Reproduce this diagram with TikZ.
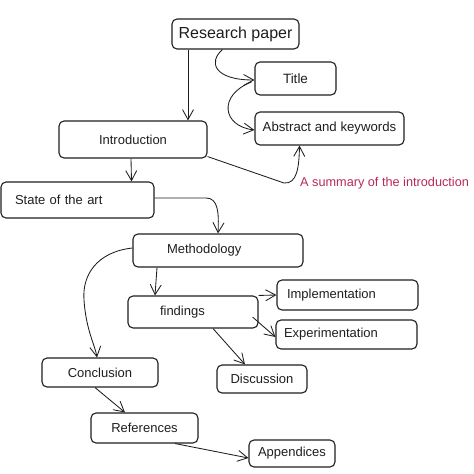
\documentclass[tikz,border=0pt]{standalone}
\usepackage{fontspec}
\setmainfont{Liberation Sans}
\usetikzlibrary{arrows.meta,calc}
\definecolor{ink}{HTML}{1E1E1E}
\definecolor{note}{HTML}{B8285A}
\tikzset{
  box/.style={draw=ink, line width=1.1pt, rounded corners=5pt, inner sep=0pt,
    text=ink, font=\fontsize{13}{15}\selectfont},
  conn/.style={draw=ink, line width=0.85pt, -{Straight Barb[length=10pt,width=11pt]}},
  lbl/.style={text=note, inner sep=0pt, font=\fontsize{12.7}{15}\selectfont},
}
\begin{document}
\begin{tikzpicture}[x=1pt,y=-1pt]
\useasboundingbox (0,0) rectangle (474,474);
% nodes
\node[box, minimum width=127pt, minimum height=30pt, font=\fontsize{16}{18}\selectfont] (rp) at (235.5,34) {Research paper};
\node[box, minimum width=81pt, minimum height=33pt, font=\fontsize{13.5}{15}\selectfont] (title) at (295.5,78.5) {Title};
\node[box, minimum width=149pt, minimum height=33pt, font=\fontsize{13.2}{15}\selectfont] (abs) at (329.5,128.5) {Abstract and keywords};
\node[box, minimum width=148pt, minimum height=37pt] (intro) at (133,139.5) {Introduction};
\node[box, minimum width=153pt, minimum height=36pt, text width=125pt, inner xsep=14pt, align=left] (state) at (77.5,200) {State of the art};
\node[box, minimum width=170pt, minimum height=33pt, text width=102pt, inner xsep=34pt, align=left] (meth) at (218,250.5) {Methodology};
\node[box, minimum width=130pt, minimum height=32pt, text width=66pt, inner xsep=32pt, align=left] (find) at (193,312) {findings};
\node[box, minimum width=141pt, minimum height=30pt, text width=121pt, inner xsep=10pt, align=left] (impl) at (347.5,295) {Implementation};
\node[box, minimum width=141pt, minimum height=29pt, text width=125pt, inner xsep=8pt, align=left] (exp) at (346.5,334.5) {Experimentation};
\node[box, minimum width=116pt, minimum height=29pt] (concl) at (100,372.5) {Conclusion};
\node[box, minimum width=90pt, minimum height=28pt] (disc) at (262,379) {Discussion};
\node[box, minimum width=107pt, minimum height=30pt] (ref) at (144.5,428) {References};
\node[box, minimum width=86pt, minimum height=27pt] (app) at (292,453.5) {Appendices};
\node[lbl, anchor=west] (sum) at (300,183) {A summary of the introduction};
% connectors
\draw[conn] ([xshift=-47.5pt]rp.south) -- ([xshift=55pt]intro.north);
\draw[conn] ([xshift=-13pt]rp.south) .. controls (208,62) and (214,80) .. ([yshift=-1.5pt]title.west);
\draw[conn] ([xshift=-3pt,yshift=-3.5pt]title.west) .. controls (218,95) and (222,126) .. ([yshift=-1.5pt]abs.west);
\draw[conn] ([yshift=2pt]intro.south east) -- (284,183) .. controls (297,184) and (299,168) .. ([xshift=-30pt]abs.south);
\draw[conn] ([xshift=-2pt]intro.south) -- ([xshift=54pt]state.north);
\draw[conn] ([yshift=2pt]state.east) -- (206,198) .. controls (218,198) and (219,212) .. (meth.north);
\draw[conn] ([yshift=2.5pt]meth.west) .. controls (96,252) and (82,276) .. (84,300) .. controls (86,330) and (95,345) .. ([xshift=-3pt]concl.north);
\draw[conn] ([xshift=-61pt]meth.south) -- ([xshift=-38pt]find.north);
\draw[conn] (find.north east) -- (impl.west);
\draw[conn] ([xshift=-6pt,yshift=-5pt]find.east) -- ([yshift=-2.5pt]exp.west);
\draw[conn] ([xshift=20pt]find.south) -- ([xshift=-17pt]disc.north);
\draw[conn] ([xshift=-5pt]concl.south) -- ([xshift=-19.5pt]ref.north);
\draw[conn] ([xshift=30.5pt]ref.south) -- ([yshift=-4.5pt]app.west);
\end{tikzpicture}
\end{document}
